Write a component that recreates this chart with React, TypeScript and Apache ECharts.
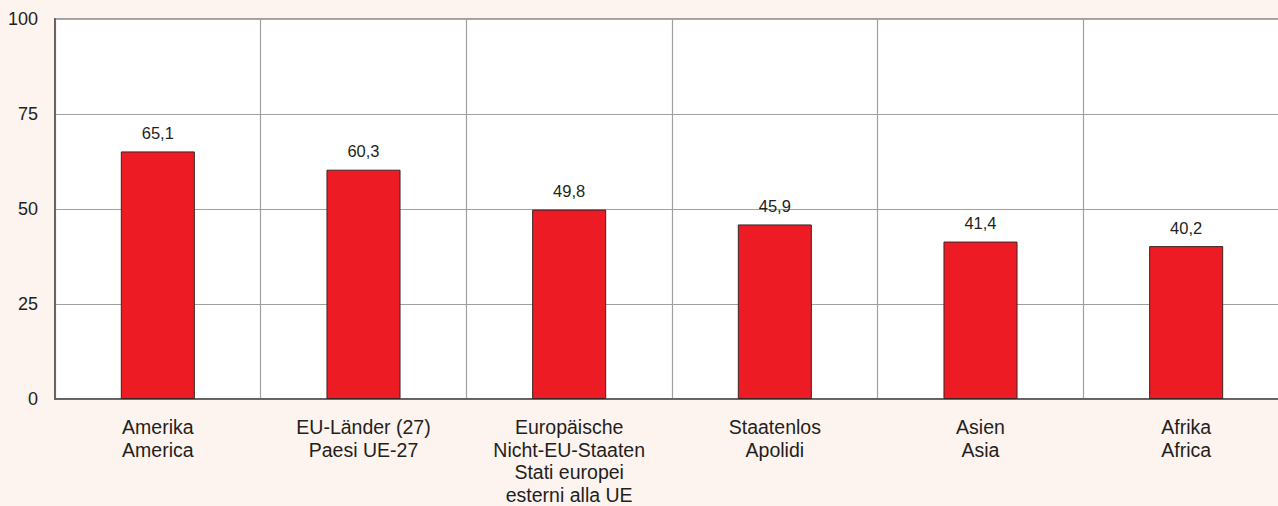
import React, { useEffect, useRef } from "react";
import * as echarts from "echarts";

const categories = [
  "Amerika\nAmerica",
  "EU-Länder (27)\nPaesi UE-27",
  "Europäische\nNicht-EU-Staaten\nStati europei\nesterni alla UE",
  "Staatenlos\nApolidi",
  "Asien\nAsia",
  "Afrika\nAfrica",
];
const values = [65.1, 60.3, 49.8, 45.9, 41.4, 40.2];
const yTicks = [0, 25, 50, 75, 100];

const FONT = "Liberation Sans, Arial, sans-serif";

export default function App() {
  const ref = useRef<HTMLDivElement>(null);
  useEffect(() => {
    if (!ref.current) return;
    const chart = echarts.init(ref.current, undefined, { renderer: "svg" });
    chart.setOption({
      animation: false,
      backgroundColor: "#fdf3ef",
      textStyle: { fontFamily: FONT },
      grid: {
        left: 55,
        top: 18.7,
        right: 0,
        height: 381.8,
        containLabel: false,
        show: true,
        backgroundColor: "#ffffff",
        borderColor: "#5a5555",
        borderWidth: 1.5,
      },
      xAxis: {
        type: "category",
        data: categories,
        boundaryGap: true,
        axisLine: { show: true, lineStyle: { color: "#5a5555", width: 1.5 } },
        axisTick: { show: false },
        splitLine: { show: true, lineStyle: { color: "#a0a0a0", width: 1.2 } },
        axisLabel: {
          color: "#231f20",
          fontSize: 19.5,
          lineHeight: 22.5,
          margin: 17,
          interval: 0,
          fontFamily: FONT,
        },
      },
      yAxis: {
        type: "value",
        min: yTicks[0],
        max: yTicks[yTicks.length - 1],
        interval: 25,
        axisLine: { show: true, lineStyle: { color: "#5a5555", width: 1.5 } },
        axisTick: { show: false },
        splitLine: { show: true, lineStyle: { color: "#a0a0a0", width: 1.2 } },
        axisLabel: {
          color: "#231f20",
          fontSize: 18,
          margin: 17,
          fontFamily: FONT,
        },
      },
      series: [
        {
          type: "bar",
          data: values,
          barWidth: "36%",
          itemStyle: { color: "#ed1c24", borderColor: "#3a2525", borderWidth: 1 },
          label: {
            show: true,
            position: "top",
            distance: 10,
            color: "#231f20",
            fontSize: 16.5,
            fontFamily: FONT,
            formatter: (p: any) => String(p.value).replace(".", ","),
          },
        },
      ],
    });
    return () => chart.dispose();
  }, []);
  return (
    <div
      style={{
        position: "fixed",
        left: 0,
        top: 0,
        width: 1278,
        height: 506,
        overflow: "hidden",
      }}
    >
      <div ref={ref} style={{ width: 1289, height: 506 }} />
    </div>
  );
}
